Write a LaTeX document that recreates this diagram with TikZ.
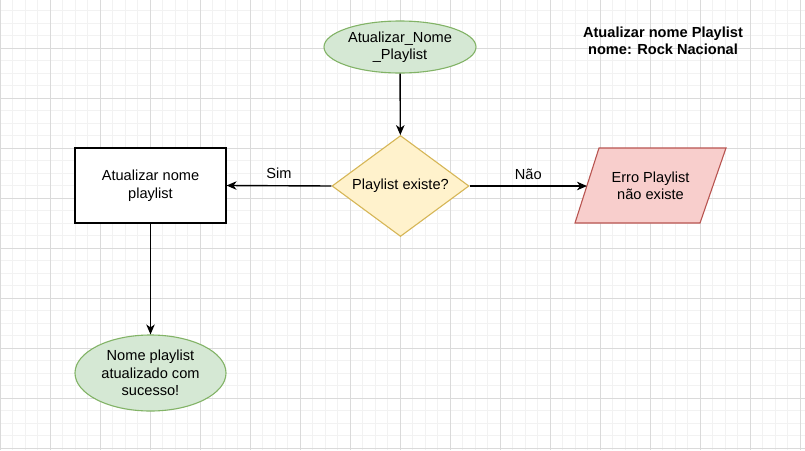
\documentclass[tikz,border=0pt]{standalone}
\usepackage{fontspec}
\setmainfont{Liberation Sans}
\usetikzlibrary{shapes.geometric,arrows.meta}
\definecolor{gfill}{HTML}{D5E8D4}
\definecolor{gline}{HTML}{82B366}
\definecolor{yfill}{HTML}{FFF2CC}
\definecolor{yline}{HTML}{D6B656}
\definecolor{rfill}{HTML}{F8CECC}
\definecolor{rline}{HTML}{B85450}
\definecolor{minorgrid}{HTML}{F2F2F2}
\definecolor{majorgrid}{HTML}{DADADA}
\tikzset{
  txt/.style={font=\fontsize{14.6}{17.5}\selectfont, align=center, text=black},
  greenell/.style={txt, ellipse, draw=gline, fill=gfill, line width=1.1pt, inner sep=0pt},
  yesno/.style={txt, diamond, aspect=1.36, draw=yline, fill=yfill, line width=1.1pt, inner sep=1pt, minimum width=137, minimum height=101},
  procbox/.style={txt, rectangle, draw=black, fill=white, line width=1.1pt, minimum width=151, minimum height=75},
  conn/.style={draw=black, line width=1.4pt, -{Stealth[length=10pt,width=8.5pt,inset=3pt]}},
  lbl/.style={txt, inner sep=0pt}
}
\begin{document}
\begin{tikzpicture}[x=1pt,y=-1pt]
\fill[white] (0,0) rectangle (805,450);
\useasboundingbox (0,0) rectangle (805,450);
% grid
\foreach \i in {0,...,64} {
  \draw[minorgrid, line width=0.8pt] ({12.5*\i},0) -- ({12.5*\i},450);
}
\foreach \j in {0,...,36} {
  \draw[minorgrid, line width=0.8pt] (0,{-2+12.5*\j}) -- (805,{-2+12.5*\j});
}
\foreach \i in {0,...,16} {
  \draw[majorgrid, line width=0.8pt] ({50*\i},0) -- ({50*\i},450);
}
\foreach \j in {0,...,9} {
  \draw[majorgrid, line width=0.8pt] (0,{-2+50*\j}) -- (805,{-2+50*\j});
}
% nodes
\node[greenell, minimum width=152, minimum height=52] (start) at (400,47) {Atualizar\_Nome\\\_Playlist};
\node[yesno] (dia) at (400.5,186) {Playlist existe?};
\node[procbox] (upd) at (150.5,185.5) {Atualizar nome\\playlist};
\node[greenell, minimum width=151, minimum height=76] (done) at (150.5,373) {Nome playlist\\atualizado com\\sucesso!};
% parallelogram
\draw[rline, fill=rfill, line width=1.1pt] (599,148) -- (726,148) -- (700,223) -- (575,223) -- cycle;
\node[txt] (err) at (650.5,186) {Erro Playlist\\não existe};
\coordinate (errin) at (587,186);
% title
\node[txt, font=\bfseries\fontsize{14.6}{17}\selectfont] (title) at (663,41) {Atualizar nome Playlist\\nome: Rock Nacional};
% connectors
\draw[conn] (start) -- (dia);
\draw[conn] (dia.west) -- (upd.east) node[lbl, midway, above=6pt] (sim) {Sim};
\draw[conn] (dia.east) -- (errin) node[lbl, midway, above=6pt] (nao) {Não};
\draw[conn] (upd) -- (done);
\end{tikzpicture}
\end{document}
